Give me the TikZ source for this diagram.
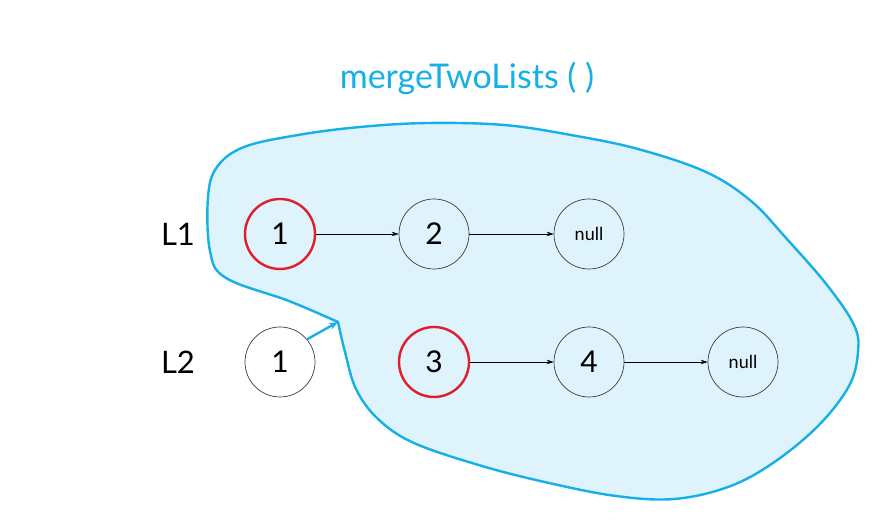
\documentclass[tikz,border=0pt]{standalone}
\usepackage{fontspec}
\setmainfont{Lato}
\usetikzlibrary{arrows.meta}
\definecolor{blobline}{RGB}{20,176,230}
\definecolor{blobfill}{RGB}{222,243,252}
\definecolor{nodered}{RGB}{225,30,45}
\definecolor{nodegrey}{RGB}{60,60,60}
\tikzset{
  listnode/.style={circle,draw=nodegrey,line width=0.7pt,minimum size=70pt,inner sep=0pt,
    font=\fontsize{30}{30}\selectfont},
  headnode/.style={listnode,draw=nodered,line width=2.4pt},
  nullnode/.style={listnode,font=\fontsize{18}{18}\selectfont},
  link/.style={-{Stealth[length=7pt,width=4.5pt]},line width=0.8pt,black},
  listlabel/.style={font=\fontsize{31}{31}\selectfont},
  callarrow/.style={-{Stealth[length=9pt,width=7pt]},line width=2.4pt,blobline}
}
\begin{document}
\begin{tikzpicture}[x=1pt,y=-1pt]
\useasboundingbox (0,0) rectangle (892,526);
\fill[white] (0,0) rectangle (892,526);
% blob
\draw[blobline,line width=2.4pt,fill=blobfill,line join=round] plot[smooth,tension=0.6] coordinates {
 (338,322) (289,301) (226,278) (210,251) (208,197) (217,167) (244,147) (298,135)
 (360,127) (428,123) (504,125) (571,135) (638,149) (706,172) (751,201) (786,238)
 (827,285) (854,325) (858,352) (849,386) (818,426) (773,463) (728,487) (674,499)
 (616,496) (549,483) (482,466) (414,443) (378,419) (356,389) (345,352) (338,322)} -- cycle;
\node[font=\fontsize{34}{34}\selectfont,text=blobline] (title) at (467,78) {mergeTwoLists ( )};
\node[listlabel] (l1) at (178,234) {L1};
\node[listlabel] (l2) at (178,362) {L2};
\node[headnode] (a1) at (280,234) {1};
\node[listnode] (a2) at (434,234) {2};
\node[nullnode] (a3) at (589,234) {null};
\node[listnode,fill=white] (b1) at (280,362) {1};
\node[headnode] (b2) at (434,362) {3};
\node[listnode] (b3) at (589,362) {4};
\node[nullnode] (b4) at (743,362) {null};
\coordinate (notch) at (338,322);
\draw[link] (a1) -- (a2);
\draw[link] (a2) -- (a3);
\draw[link] (b2) -- (b3);
\draw[link] (b3) -- (b4);
\draw[callarrow] (b1.40) -- (notch);
\end{tikzpicture}
\end{document}
